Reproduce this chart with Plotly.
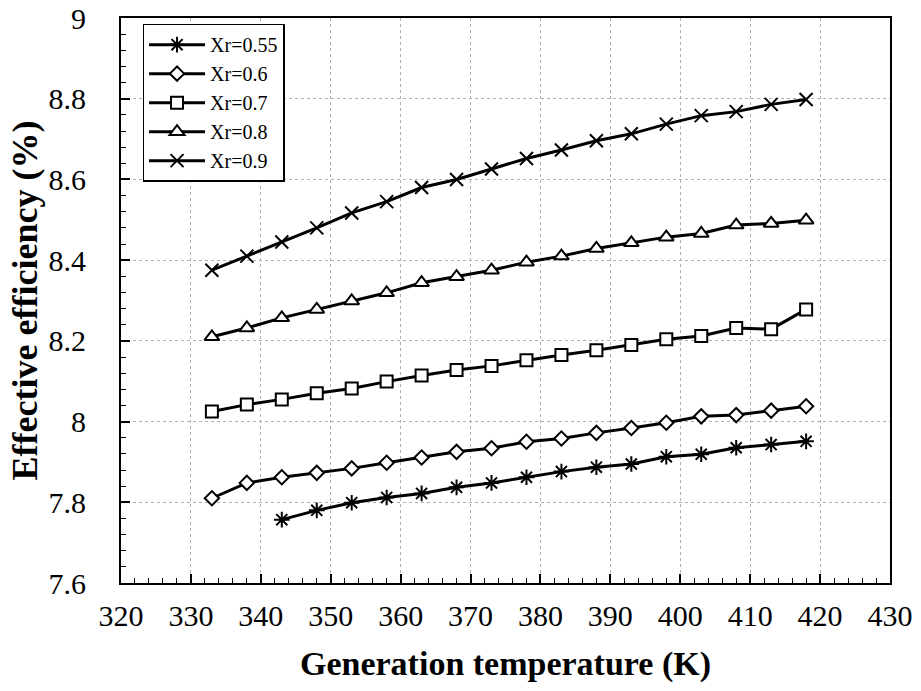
import plotly.graph_objects as go

temps = [333, 338, 343, 348, 353, 358, 363, 368, 373, 378, 383, 388, 393, 398, 403, 408, 413, 418]
temps_055 = temps[2:]

eff_055 = [7.757, 7.780, 7.799, 7.812, 7.822, 7.837, 7.848, 7.862, 7.876, 7.887, 7.895, 7.913, 7.919, 7.935, 7.943, 7.951]
eff_06 = [7.810, 7.848, 7.862, 7.873, 7.884, 7.898, 7.911, 7.925, 7.934, 7.950, 7.958, 7.972, 7.984, 7.997, 8.013, 8.016, 8.027, 8.038]
eff_07 = [8.025, 8.042, 8.055, 8.070, 8.082, 8.099, 8.114, 8.128, 8.138, 8.152, 8.165, 8.177, 8.190, 8.204, 8.212, 8.232, 8.229, 8.278]
eff_08 = [8.210, 8.232, 8.257, 8.278, 8.299, 8.319, 8.344, 8.359, 8.375, 8.395, 8.410, 8.429, 8.443, 8.457, 8.466, 8.487, 8.491, 8.499]
eff_09 = [8.375, 8.410, 8.445, 8.480, 8.517, 8.545, 8.580, 8.600, 8.626, 8.652, 8.673, 8.696, 8.713, 8.737, 8.758, 8.768, 8.786, 8.798]

names = ["Xr=0.55", "Xr=0.6", "Xr=0.7", "Xr=0.8", "Xr=0.9"]
xs = [temps_055, temps, temps, temps, temps]
ys = [eff_055, eff_06, eff_07, eff_08, eff_09]
symbols = ["asterisk-open", "diamond", "square", "triangle-up", "x-thin-open"]
sizes = [13, 11, 12, 13, 13]
fills = ["black", "white", "white", "white", "black"]

ytick_vals = [7.6, 7.8, 8.0, 8.2, 8.4, 8.6, 8.8, 9.0]
ytick_text = ["7.6", "7.8", "8", "8.2", "8.4", "8.6", "8.8", "9"]

fig = go.Figure()
for name, x, y, sym, sz, fc in zip(names, xs, ys, symbols, sizes, fills):
    fig.add_trace(go.Scatter(
        x=x, y=y, name=name, mode="lines+markers",
        line=dict(color="black", width=3),
        marker=dict(symbol=sym, size=sz, color=fc,
                    line=dict(color="black", width=2)),
    ))

ff = "Liberation Serif"
fig.update_layout(
    width=921, height=691,
    margin=dict(l=121, r=31, t=18, b=108, autoexpand=False),
    paper_bgcolor="white", plot_bgcolor="white",
    font=dict(family=ff, color="black", size=22),
    showlegend=True,
    legend=dict(x=0.028, y=0.99, xanchor="left", yanchor="top",
                bgcolor="white", bordercolor="black", borderwidth=1.5,
                font=dict(size=20, family=ff, color="black"),
                itemwidth=56),
)
fig.update_xaxes(
    range=[320, 430], tick0=320, dtick=10,
    showline=True, linecolor="black", linewidth=2, mirror=True,
    ticks="inside", ticklen=9, tickwidth=1.5, tickcolor="black",
    minor=dict(ticks="inside", ticklen=5, dtick=2, tickwidth=1, tickcolor="black", showgrid=False),
    showgrid=True, gridcolor="#b0b0b0", griddash="dot", gridwidth=1,
    zeroline=False, automargin=False,
    tickfont=dict(size=30, family=ff, color="black"), ticklabelstandoff=5,
    title=dict(text="<b>Generation temperature (K)</b>",
               font=dict(size=34, family=ff, color="black"), standoff=20),
)
fig.update_yaxes(
    range=[7.6, 9.0],
    showline=True, linecolor="black", linewidth=2, mirror=True,
    ticks="inside", ticklen=9, tickwidth=1.5, tickcolor="black",
    minor=dict(ticks="inside", ticklen=5, dtick=0.04, tick0=7.6, tickwidth=1, tickcolor="black", showgrid=False),
    showgrid=True, gridcolor="#b0b0b0", griddash="dot", gridwidth=1,
    zeroline=False, automargin=False,
    tickfont=dict(size=30, family=ff, color="black"), ticklabelstandoff=27,
    tickmode="array", tickvals=ytick_vals, ticktext=ytick_text,
    title=dict(text="<b>Effective efficiency (%)</b>",
               font=dict(size=36, family=ff, color="black"), standoff=0),
)

fig.write_html("out.html")
